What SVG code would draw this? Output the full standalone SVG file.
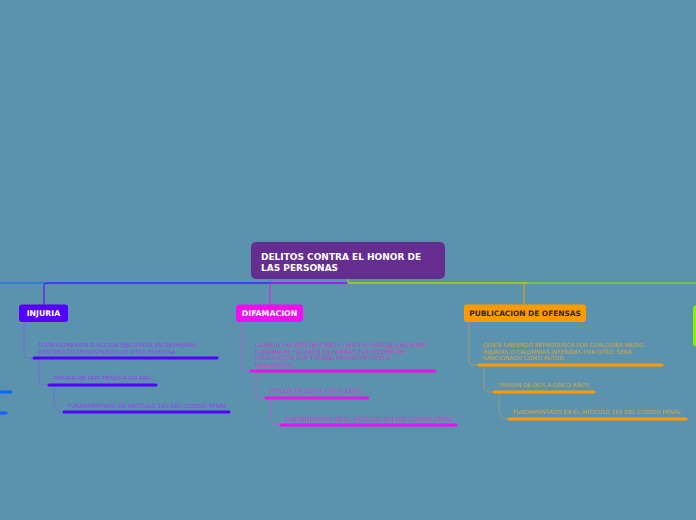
<svg xmlns="http://www.w3.org/2000/svg" width="696" height="520" viewBox="0 0 696 520">
<style>
.t{font-family:"DejaVu Sans",Verdana,sans-serif;font-size:5.7px}
.h{font-family:"DejaVu Sans",Verdana,sans-serif;font-weight:bold}
.c{fill:none;stroke-width:1}
.bar{stroke-width:3;stroke-linecap:round}
.inj{fill:#9a3cf0}
.dif{fill:#d03ad0}
.pub{fill:#d9a53e}
</style>
<rect width="696" height="520" fill="#5b92ad"/>
<g id="connectors">
  <path class="c" d="M348 283 H0" stroke="#0a66ff"/>
  <path class="c" d="M348 283 H47 Q44 283 44 286 V305" stroke="#5500ff"/>
  <path class="c" d="M348 283 H273 Q270 283 270 286 V305" stroke="#ee11ee"/>
  <path class="c" d="M348 283 H527 Q524 283 524 286 V305" stroke="#ff9900"/>
  <path class="c" d="M348 279 V283 H696" stroke="#88ee00"/>
  <path class="c" d="M24 322 V354 Q24 358 28 358 H33" stroke="#6c70cc"/>
  <path class="c" d="M39 358 V381 Q39 385 43 385 H48" stroke="#6c70cc"/>
  <path class="c" d="M54 385 V402 Q54 412 63 412" stroke="#6c70cc"/>
  <path class="c" d="M242 322 V367 Q242 371 246 371 H250" stroke="#b060c8"/>
  <path class="c" d="M256 371 V394 Q256 398 260 398 H265" stroke="#b060c8"/>
  <path class="c" d="M271 398 V415 Q271 425 280 425" stroke="#b060c8"/>
  <path class="c" d="M469 322 V361 Q469 365 473 365 H478" stroke="#a09a78"/>
  <path class="c" d="M484 365 V388 Q484 392 488 392 H493" stroke="#a09a78"/>
  <path class="c" d="M499 392 V409 Q499 419 508 419" stroke="#a09a78"/>
</g>
<g id="root">
  <rect x="251" y="242" width="194" height="37" rx="5" fill="#662d91"/>
  <text class="h" font-size="9" fill="#ffffff" x="261" y="259.5">DELITOS CONTRA EL HONOR DE</text>
  <text class="h" font-size="9" fill="#ffffff" x="261" y="270.5">LAS PERSONAS</text>
</g>
<g id="injuria">
  <rect x="19" y="304.5" width="49" height="17.5" rx="3" fill="#5500ff"/>
  <text class="h" font-size="7.8" fill="#ffffff" x="43.5" y="316" text-anchor="middle">INJURIA</text>
</g>
<g id="injuria-1">
  <text class="t inj" x="38" y="347">TODA EXPRESION O ACCION  EJECUTADA EN DESHONRA,</text>
  <text class="t inj" x="38" y="353.5">DESCREDITO MENOSPRECIO DE OTRA PERSONA</text>
  <line class="bar" x1="34" y1="358" x2="217" y2="358" stroke="#5500ff"/>
</g>
<g id="injuria-2">
  <text class="t inj" x="53" y="379.5">PRISION DE DOS MESES A UN AÑO</text>
  <line class="bar" x1="49" y1="385" x2="156" y2="385" stroke="#5500ff"/>
</g>
<g id="injuria-3">
  <text class="t inj" x="68" y="407.5">FUNDAMENTADO EN ARTICULO 161 DEL CODIGO PENAL</text>
  <line class="bar" x1="64" y1="412" x2="229" y2="412" stroke="#5500ff"/>
</g>
<g id="difamacion">
  <rect x="236" y="304.5" width="67" height="17.5" rx="3" fill="#ee11ee"/>
  <text class="h" font-size="7.8" fill="#ffffff" x="269.5" y="316" text-anchor="middle">DIFAMACION</text>
</g>
<g id="difamacion-1">
  <text class="t dif" x="255" y="347">CUANDO LAS IMPUTACIONES CONSTITUTIVAS DE CALUMNIA</text>
  <text class="t dif" x="255" y="353.5">O INJURIA SE HICIEREN EN FORMAO POR MEDIOS DE</text>
  <text class="t dif" x="255" y="360">DIVULGACION QUE PUEDAN PROVOCAR ODIO O</text>
  <text class="t dif" x="255" y="366.5">DESCREDITO.</text>
  <line class="bar" x1="251" y1="371" x2="435" y2="371" stroke="#ee11ee"/>
</g>
<g id="difamacion-2">
  <text class="t dif" x="270" y="393">PRISION DE DOS A CINCO AÑOS.</text>
  <line class="bar" x1="266" y1="398" x2="368" y2="398" stroke="#ee11ee"/>
</g>
<g id="difamacion-3">
  <text class="t dif" x="285" y="421">FUNDAMENTADO EN EL ARTICULO 164 DEL CODIGO PENAL.</text>
  <line class="bar" x1="281" y1="425" x2="456" y2="425" stroke="#ee11ee"/>
</g>
<g id="publicacion">
  <rect x="464" y="304.5" width="122" height="17.5" rx="3" fill="#ff9900"/>
  <text class="h" font-size="7.4" fill="#2a2a2a" x="525" y="316" text-anchor="middle">PUBLICACION DE OFENSAS</text>
</g>
<g id="publicacion-1">
  <text class="t pub" x="483" y="347">QUIEN SABIENDO REPRODUSCA POR CUALQUIER MEDIO,</text>
  <text class="t pub" x="483" y="353.5">INJURIAS O CALUMNIAS INFERIDAS POR OTRO. SERA</text>
  <text class="t pub" x="483" y="360">SANCIONADO COMO AUTOR.</text>
  <line class="bar" x1="479" y1="365" x2="662" y2="365" stroke="#ff9900"/>
</g>
<g id="publicacion-2">
  <text class="t pub" x="498" y="387">PRISION DE DOS A CINCO AÑOS</text>
  <line class="bar" x1="494" y1="392" x2="594" y2="392" stroke="#ff9900"/>
</g>
<g id="publicacion-3">
  <text class="t pub" x="513" y="414">FUNDAMENTADO  EN EL ARTICULO 165 DEL CODIGO PENAL.</text>
  <line class="bar" x1="509" y1="419" x2="686" y2="419" stroke="#ff9900"/>
</g>
<g id="right-node">
  <rect x="693" y="305.5" width="20" height="41" rx="3" fill="#88ee00"/>
</g>
<g id="left-offscreen">
  <line class="bar" x1="-5" y1="392" x2="11" y2="392" stroke="#0a66ff"/>
  <line class="bar" x1="-5" y1="413" x2="6" y2="413" stroke="#0a66ff"/>
</g>
</svg>
